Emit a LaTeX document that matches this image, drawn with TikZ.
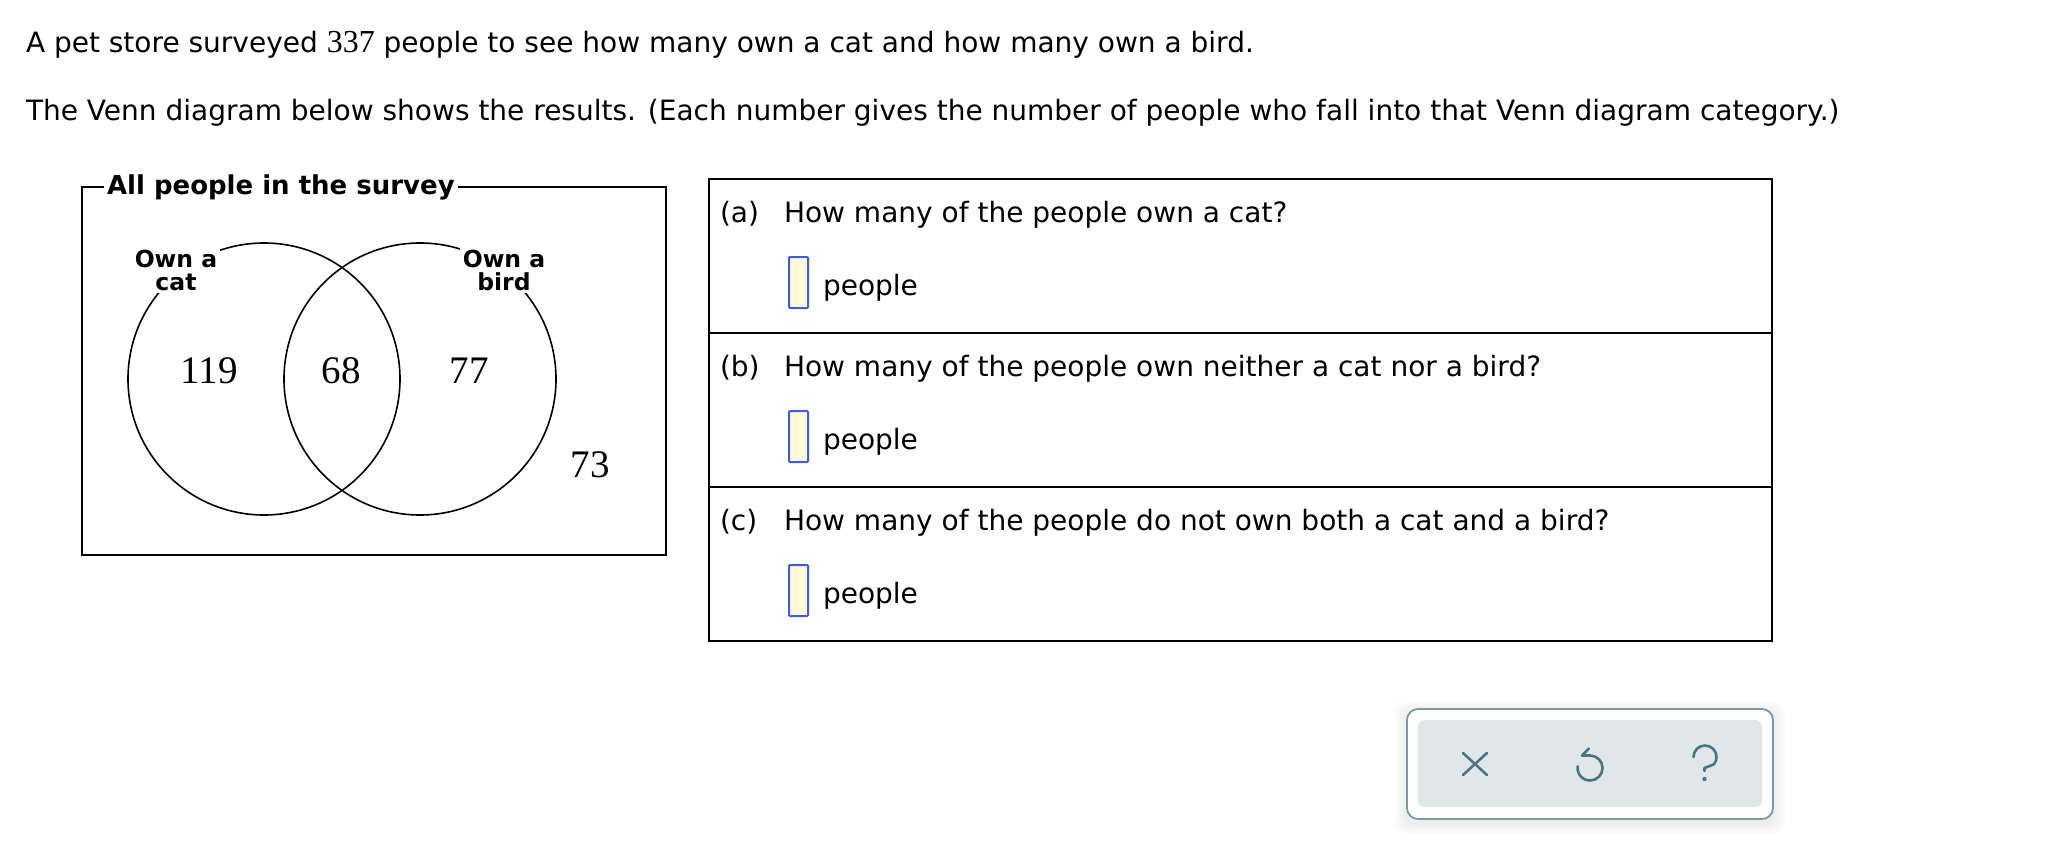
\documentclass[tikz,border=0pt]{standalone}
\usepackage{fontspec}
\setmainfont{DejaVu Sans}
\newfontfamily\numfont{Liberation Serif}
\definecolor{ansblue}{HTML}{3F5BEA}
\definecolor{anscream}{HTML}{FFF9D8}
\definecolor{barline}{HTML}{7C9AA3}
\definecolor{barfill}{HTML}{E0E7E9}
\definecolor{icongray}{HTML}{4A7482}

\begin{document}
\begin{tikzpicture}
[x=1pt,y=-1pt,every node/.style={inner sep=0pt,outer sep=0pt},
 txt/.style={anchor=base west,font=\fontsize{28}{33}\selectfont},
 title/.style={anchor=west,fill=white,inner xsep=3pt,inner ysep=4pt,font=\bfseries\fontsize{26}{30}\selectfont},
 setlbl/.style={fill=white,inner sep=3pt,align=center,font=\bfseries\fontsize{23.5}{23}\selectfont},
 num/.style={font=\numfont\fontsize{39}{44}\selectfont},
 ansbox/.style={anchor=north west,draw=ansblue,fill=anscream,line width=2pt,minimum width=19pt,minimum height=51pt,rounded corners=1pt},
 icon/.style={draw=icongray,line width=2.6pt,line cap=round,line join=round}]

  \useasboundingbox (0,0) rectangle (2048,862);

  % question text
  \node[txt] (intro1) at (26,52) {A pet store surveyed {\numfont\fontsize{32}{33}\selectfont 337} people to see how many own a cat and how many own a bird.};
  \node[txt] (intro2) at (26,120) {The Venn diagram below shows the results. (Each number gives the number of people who fall into that Venn diagram category.)};

  % venn diagram
  \node[draw,line width=1.8pt,anchor=north west,minimum width=584pt,minimum height=368pt] (survey) at (82,187) {};
  \node[title] (surveylbl) at (104,187) {All people in the survey};
  \node[circle,draw,line width=1.6pt,minimum size=272pt] (cat) at (264,379) {};
  \node[circle,draw,line width=1.6pt,minimum size=272pt] (bird) at (420,379) {};
  \node[setlbl] (catlbl) at (176,270) {Own a\\cat};
  \node[setlbl] (birdlbl) at (504,270) {Own a\\bird};

  \node[num] (onlycat) at (209,371) {119};
  \node[num] (both) at (341,371) {68};
  \node[num] (onlybird) at (469,371) {77};
  \node[num] (neither) at (590,465) {73};

  % answer rows
  \foreach \y/\q/\t in {179/a/How many of the people own a cat?,
                        333/b/How many of the people own neither a cat nor a bird?,
                        487/c/How many of the people do not own both a cat and a bird?}
  {
    \node[draw,line width=1.8pt,anchor=north west,minimum width=1063pt,minimum height=154pt] (row\q) at (709,\y) {};
    \node[txt] (part\q) at (720,\y+43) {(\q)};
    \node[txt] (ask\q) at (784,\y+43) {\t};
    \node[ansbox] (ans\q) at (789,\y+78) {};
    \node[txt] (unit\q) at (823,\y+116) {people};
  }

  % tool bar
  \foreach \s in {2,4,...,12}
    \fill[black,opacity=0.01,rounded corners=12pt] (1407-\s,709-\s+4) rectangle (1773+\s,819+\s+4);
  \node[draw=barline,fill=white,line width=1.8pt,rounded corners=11pt,anchor=north west,minimum width=366pt,minimum height=110pt] (toolbar) at (1407,709) {};
  \node[fill=barfill,rounded corners=7pt,anchor=north west,minimum width=344pt,minimum height=87pt] (toolfill) at (1418,720) {};

  \coordinate (clear) at (1475,764);
  \coordinate (undo) at (1590,768);
  \coordinate (help) at (1704,758);
  \draw[icon] ([shift={(-12,-11)}]clear) -- ([shift={(12,11)}]clear);
  \draw[icon] ([shift={(-12,11)}]clear) -- ([shift={(12,-11)}]clear);
  \draw[icon] ([shift={(-1,-19.5)}]undo) -- ([shift={(-8,-12.5)}]undo) -- ([shift={(0,-12.5)}]undo)
    arc[start angle=-90,end angle=188,radius=12.5];
  \draw[icon] ([shift={(-10.5,-1)}]help) arc[start angle=180,end angle=400,radius=11.5]
    -- ([shift={(0.5,10)}]help) -- ([shift={(0.5,13)}]help);
  \fill[icongray] ([shift={(0.5,21)}]help) circle (2.2pt);
\end{tikzpicture}
\end{document}
